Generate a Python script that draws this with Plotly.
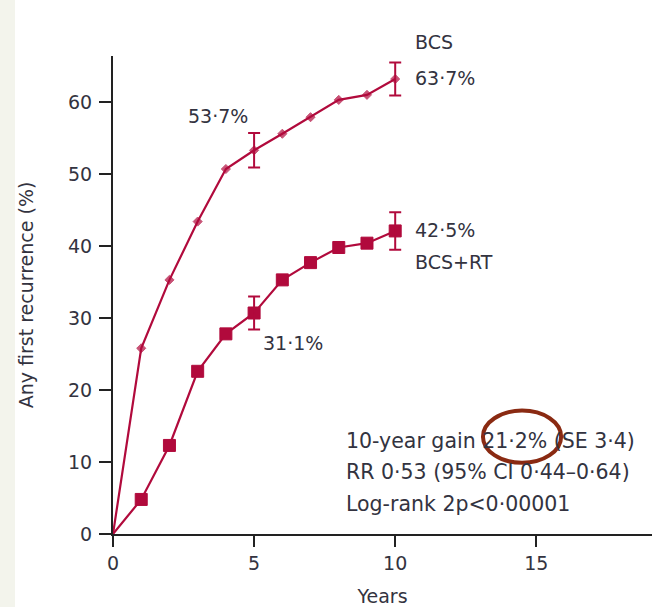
import plotly.graph_objects as go

years = [0, 1, 2, 3, 4, 5, 6, 7, 8, 9, 10]
bcs = [0, 25.8, 35.3, 43.4, 50.7, 53.3, 55.6, 57.9, 60.3, 61.0, 63.2]
bcs_rt = [0, 4.8, 12.3, 22.6, 27.8, 30.7, 35.3, 37.7, 39.8, 40.4, 42.1]

err_years = [5, 10]
bcs_err_y = [53.3, 63.2]
bcs_err = [2.4, 2.3]
rt_err_y = [30.7, 42.1]
rt_err = [2.3, 2.6]

xticks = [0, 5, 10, 15]
yticks = [0, 10, 20, 30, 40, 50, 60]

RED = "#b10a3c"
TXT = "#333340"
FONT = "DejaVu Sans"

fig = go.Figure()
fig.add_trace(go.Scatter(x=years, y=bcs, mode="lines+markers",
                         line=dict(color=RED, width=2.2),
                         marker=dict(symbol="diamond", size=[0] + [7] * 10, color=RED,
                                     line=dict(color=RED, width=1)),
                         cliponaxis=False, showlegend=False))
fig.add_trace(go.Scatter(x=years, y=bcs_rt, mode="lines+markers",
                         line=dict(color=RED, width=2.2),
                         marker=dict(symbol="square", size=[0] + [12] * 10, color=RED,
                                     opacity=1, line=dict(color=RED, width=1)),
                         cliponaxis=False, showlegend=False))
fig.add_trace(go.Scatter(x=err_years, y=bcs_err_y, mode="markers",
                         marker=dict(size=1, color=RED),
                         error_y=dict(type="data", array=bcs_err, color=RED, thickness=2, width=6),
                         showlegend=False))
fig.add_trace(go.Scatter(x=err_years, y=rt_err_y, mode="markers",
                         marker=dict(size=1, color=RED),
                         error_y=dict(type="data", array=rt_err, color=RED, thickness=2, width=6),
                         showlegend=False))

def ann(x, y, text, size=19, yref="y"):
    fig.add_annotation(x=x, y=y, xref="x", yref=yref, text=text, showarrow=False,
                       xanchor="left", yanchor="middle",
                       font=dict(family=FONT, size=size, color=TXT))

ann(10.64, 1.0286, "BCS", yref="paper")
ann(10.64, 63.3, "63·7%")
ann(2.59, 58.0, "53·7%")
ann(5.24, 26.6, "31·1%")
ann(10.64, 42.2, "42·5%")
ann(10.64, 37.8, "BCS+RT")
ann(8.2, 12.95, "10-year gain 21·2% (SE 3·4)", size=20.5)
ann(8.2, 8.65, "RR 0·53 (95% CI 0·44–0·64)", size=20.5)
ann(8.2, 4.1, "Log-rank 2p<0·00001", size=20.5)

fig.add_shape(type="circle", xref="x", yref="y", x0=13.11, x1=15.88, y0=9.89, y1=17.14,
              line=dict(color="#8a2a12", width=4))
fig.add_shape(type="rect", xref="paper", yref="paper", x0=-113/539, x1=-98/539, y0=-1, y1=2,
              fillcolor="#f3f4ec", line=dict(width=0), layer="below")

fig.update_layout(
    width=664, height=607,
    margin=dict(l=113, r=12, t=56, b=73),
    paper_bgcolor="white", plot_bgcolor="white",
    font=dict(family=FONT, size=19, color=TXT),
    xaxis=dict(range=[0, 19.1], tickvals=xticks, showgrid=False, zeroline=False,
               showline=True, linecolor="#222", linewidth=2, ticks="outside",
               ticklen=11, tickwidth=2, tickcolor="#222", ticklabelstandoff=0,
               automargin=False,
               title=dict(text="Years", font=dict(size=19), standoff=17)),
    yaxis=dict(range=[0, 66.4], tickvals=yticks, showgrid=False, zeroline=False,
               showline=True, linecolor="#222", linewidth=2, ticks="outside",
               ticklen=12, tickwidth=2, tickcolor="#222", ticklabelstandoff=3,
               automargin=False,
               title=dict(text="Any first recurrence (%)", font=dict(size=19), standoff=29)),
)
fig.write_html("out.html")
